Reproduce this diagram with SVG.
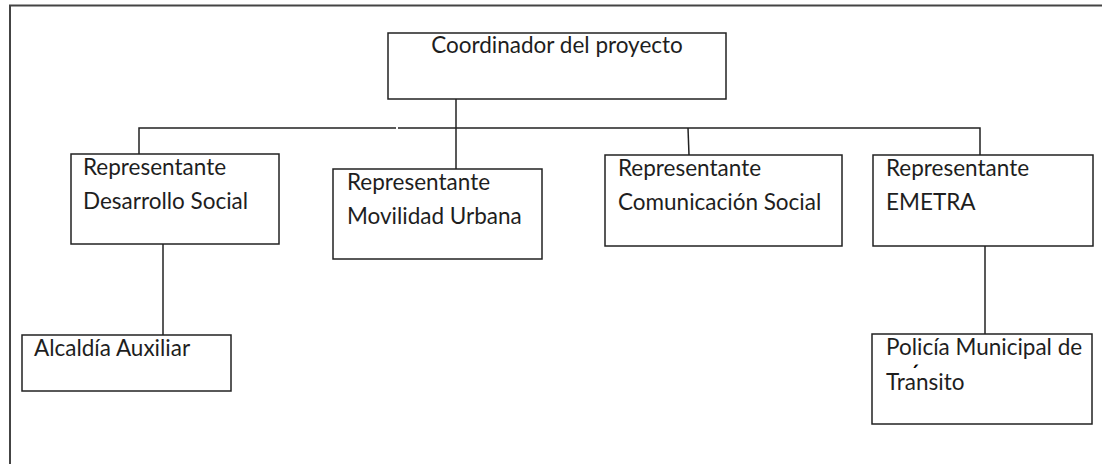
<svg xmlns="http://www.w3.org/2000/svg" width="1102" height="464" viewBox="0 0 1102 464">
<style>
.box{fill:#fff;stroke:#222;stroke-width:1.5}
.ln{fill:none;stroke:#222;stroke-width:1.5}
.frame{fill:none;stroke:#444;stroke-width:2}
text{font-family:Lato,"Liberation Sans",sans-serif;font-size:22.5px;fill:#1e1e1e}
.acc{font-size:24px;fill:#000}
</style>
<rect width="1102" height="464" fill="#fff"/>
<path class="frame" d="M10,464 V5.5 H1102"/>
<g id="connectors">
<path class="ln" d="M456,99 V169"/>
<path class="ln" d="M139,154 V128 H396 M398,128 H980 V155"/>
<path class="ln" d="M688,128 L689,155"/>
<path class="ln" d="M163,244 V335"/>
<path class="ln" d="M985,246 V334"/>
</g>
<g id="coordinador">
<rect class="box" x="388" y="33" width="338" height="66"/>
<text x="557" y="53" text-anchor="middle">Coordinador del proyecto</text>
</g>
<g id="desarrollo">
<rect class="box" x="71" y="154" width="208" height="90"/>
<text x="83" y="175">Representante</text>
<text x="83" y="209">Desarrollo Social</text>
</g>
<g id="movilidad">
<rect class="box" x="333" y="169" width="209" height="90"/>
<text x="347" y="190">Representante</text>
<text x="347" y="224">Movilidad Urbana</text>
</g>
<g id="comunicacion">
<rect class="box" x="605" y="155" width="237" height="91"/>
<text x="618" y="176">Representante</text>
<text x="618" y="210">Comunicación Social</text>
</g>
<g id="emetra">
<rect class="box" x="873" y="155" width="220" height="91"/>
<text x="886" y="176">Representante</text>
<text x="886" y="210">EMETRA</text>
</g>
<g id="alcaldia">
<rect class="box" x="22" y="335" width="209" height="56"/>
<text x="34" y="356">Alcaldía Auxiliar</text>
</g>
<g id="policia">
<rect class="box" x="872" y="334" width="220" height="90"/>
<text x="886" y="355">Policía Municipal de</text>
<text class="acc" x="910" y="382">´</text>
<text x="886" y="390">Transito</text>
</g>
</svg>
